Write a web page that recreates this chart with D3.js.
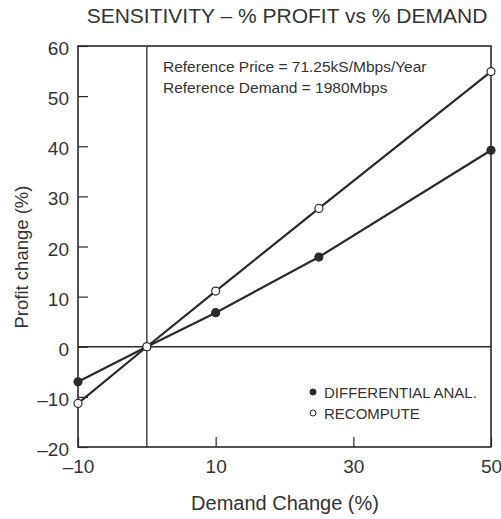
<!DOCTYPE html>
<html>
<head>
<meta charset="utf-8">
<script src="https://cdn.jsdelivr.net/npm/d3@7"></script>
<style>
  body { margin: 0; background: #fff; }
  svg { display: block; }
  text { font-family: "Liberation Sans", Arial, Helvetica, sans-serif; fill: #333; }
</style>
</head>
<body>
<svg id="chart" width="501" height="519"></svg>
<script>
// Demand change (%) at which profit change was evaluated
const demandChange = [-10, 0, 10, 25, 50];
// Profit change (%) from the differential analysis
const differentialAnal = [-7, 0, 6.8, 17.9, 39.2];
// Profit change (%) from a full recompute
const recompute = [-11.3, 0, 11.1, 27.6, 54.9];

const xTicks = [-10, 10, 30, 50];
const yTicks = [-20, -10, 0, 10, 20, 30, 40, 50, 60];

const seriesNames = ["DIFFERENTIAL ANAL.", "RECOMPUTE"];
const notes = ["Reference Price = 71.25kS/Mbps/Year", "Reference Demand = 1980Mbps"];

const svg = d3.select("#chart");
const margin = { left: 78, right: 10, top: 46, bottom: 72 };
const W = 501, H = 519;
const x = d3.scaleLinear().domain([-10, 50]).range([margin.left, W - margin.right]);
const y = d3.scaleLinear().domain([-20, 60]).range([H - margin.bottom, margin.top]);

const ink = "#2a2a2a";
const fmt = d => d < 0 ? "\u2013" + Math.abs(d) : d;

// title
svg.append("text")
  .attr("x", 287)
  .attr("y", 23)
  .attr("text-anchor", "middle")
  .style("font-size", "21px")
  .text("SENSITIVITY \u2013 % PROFIT vs % DEMAND");

// reference lines at zero
svg.append("line")
  .attr("x1", x(0)).attr("x2", x(0))
  .attr("y1", y(-20)).attr("y2", y(60))
  .attr("stroke", ink).attr("stroke-width", 1.3);
svg.append("line")
  .attr("x1", x(-10)).attr("x2", x(50))
  .attr("y1", y(0)).attr("y2", y(0))
  .attr("stroke", ink).attr("stroke-width", 1.3);

// axes with inward ticks
const yAxis = d3.axisLeft(y).tickValues(yTicks).tickSize(-10).tickPadding(9).tickFormat(fmt);
const gy = svg.append("g").attr("transform", `translate(${margin.left},0)`).call(yAxis);
const xAxis = d3.axisBottom(x).tickValues(xTicks).tickSize(-10).tickPadding(13).tickFormat(fmt);
const gx = svg.append("g").attr("transform", `translate(0,${H - margin.bottom})`).call(xAxis);

[gx, gy].forEach(g => {
  g.select(".domain").remove();
  g.selectAll(".tick line").attr("stroke", ink).attr("stroke-width", 1.2);
  g.selectAll(".tick text").style("font-size", "19px")
    .style("font-family", "\"Liberation Sans\", Arial, sans-serif").attr("fill", "#333");
});
gy.selectAll(".tick text").attr("dy", "0.45em");

// frame
svg.append("rect")
  .attr("x", x(-10)).attr("y", y(60))
  .attr("width", x(50) - x(-10)).attr("height", y(-20) - y(60))
  .attr("fill", "none").attr("stroke", ink).attr("stroke-width", 1.6);

// axis titles
svg.append("text")
  .attr("x", 285).attr("y", 510)
  .attr("text-anchor", "middle")
  .style("font-size", "20px")
  .text("Demand Change (%)");
svg.append("text")
  .attr("transform", "translate(28,257) rotate(-90)")
  .attr("text-anchor", "middle")
  .style("font-size", "18.5px")
  .text("Profit change (%)");

// notes
notes.forEach((t, i) => {
  svg.append("text")
    .attr("x", 163).attr("y", 72 + i * 21)
    .style("font-size", "15.5px")
    .text(t);
});

// series
const line = d3.line().x(d => x(d[0])).y(d => y(d[1]));
const series = [
  { name: seriesNames[0], values: differentialAnal, fill: ink },
  { name: seriesNames[1], values: recompute, fill: "#fff" }
];
series.forEach(s => {
  const pts = demandChange.map((d, i) => [d, s.values[i]]);
  svg.append("path").datum(pts)
    .attr("d", line)
    .attr("fill", "none").attr("stroke", ink).attr("stroke-width", 2.2);
  svg.selectAll(null).data(pts).enter().append("circle")
    .attr("cx", d => x(d[0])).attr("cy", d => y(d[1]))
    .attr("r", 4)
    .attr("fill", s.fill).attr("stroke", ink).attr("stroke-width", 1.2);
});

// legend
series.forEach((s, i) => {
  const ly = 392 + i * 21;
  svg.append("circle").attr("cx", 313).attr("cy", ly).attr("r", 3)
    .attr("fill", s.fill).attr("stroke", ink).attr("stroke-width", 1);
  svg.append("text").attr("x", 324).attr("y", ly + 6)
    .style("font-size", "15px").text(s.name);
});
</script>
</body>
</html>
